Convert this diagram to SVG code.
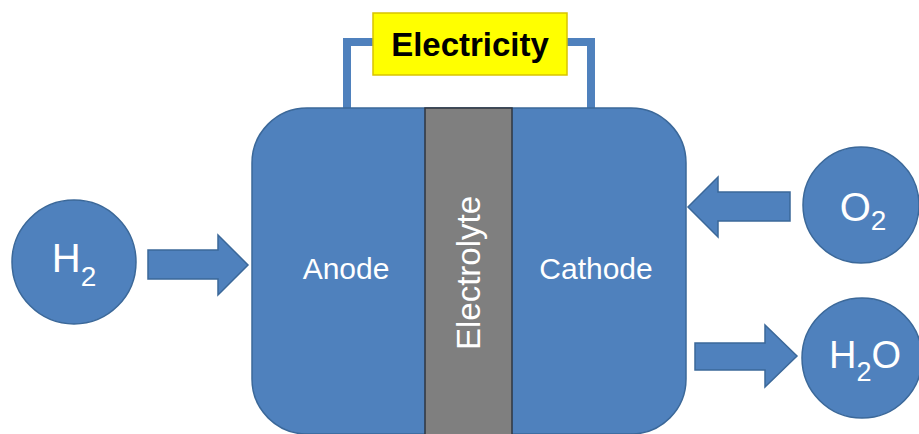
<svg xmlns="http://www.w3.org/2000/svg" width="919" height="434" viewBox="0 0 919 434">
  <style>
    .blue { fill: #4f81bd; stroke: #3b6899; stroke-width: 1.5; }
    .wire { fill: none; stroke: #4f81bd; stroke-width: 8; stroke-linejoin: miter; }
    .lbl { font-family: "Liberation Sans", Arial, sans-serif; fill: #ffffff; text-anchor: middle; }
  </style>
  <rect width="919" height="434" fill="#ffffff"/>
  <g id="connectors">
    <path class="wire" d="M347,108 V42 H380"/>
    <path class="wire" d="M560,42 H591 V108"/>
    <polygon id="arrow-h2" class="blue" points="148,250 218,250 218,235 248,265 218,295 218,279 148,279"/>
    <polygon id="arrow-o2" class="blue" points="790,192 718,192 718,177 688,207 718,237 718,221 790,221"/>
    <polygon id="arrow-h2o" class="blue" points="695,343 765,343 765,325 797,356 765,387 765,370 695,370"/>
  </g>
  <g id="cell">
    <rect class="blue" x="252" y="108" width="434" height="326" rx="55" ry="55"/>
  </g>
  <g id="electrolyte">
    <rect x="425" y="108" width="87" height="330" fill="#7f7f7f" stroke="#2f3640" stroke-width="1.5"/>
    <text class="lbl" transform="translate(480,273) rotate(-90)" x="0" y="0" font-size="33">Electrolyte</text>
  </g>
  <g id="anode">
    <text class="lbl" x="346" y="279" font-size="30">Anode</text>
  </g>
  <g id="cathode">
    <text class="lbl" x="596" y="279" font-size="30">Cathode</text>
  </g>
  <g id="electricity">
    <rect x="373" y="13" width="194" height="62" fill="#ffff00" stroke="#d8c400" stroke-width="1.5"/>
    <text x="470" y="56" font-family="Liberation Sans, Arial, sans-serif" font-weight="bold" font-size="33" text-anchor="middle" fill="#000000">Electricity</text>
  </g>
  <g id="h2">
    <circle class="blue" cx="74" cy="262" r="62"/>
    <text class="lbl" x="74" y="272" font-size="40">H<tspan font-size="28" dy="14">2</tspan></text>
  </g>
  <g id="o2">
    <circle class="blue" cx="861" cy="205" r="58"/>
    <text class="lbl" x="863" y="221" font-size="40">O<tspan font-size="28" dy="9">2</tspan></text>
  </g>
  <g id="h2o">
    <circle class="blue" cx="862" cy="358" r="60"/>
    <text class="lbl" x="865" y="368" font-size="38">H<tspan font-size="27" dy="13">2</tspan><tspan dy="-13">O</tspan></text>
  </g>
</svg>
